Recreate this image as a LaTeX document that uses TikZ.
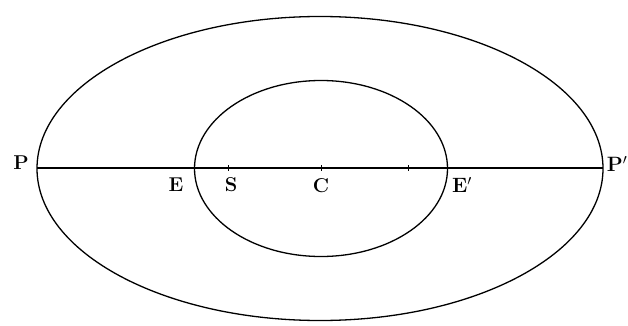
\documentclass[tikz,border=0pt]{standalone}
\usepackage{amsmath}
\usepackage{amssymb}
\usepackage{tikz}

\begin{document}
\begin{tikzpicture}[x=1pt, y=-1pt, line width=1.3pt,
    lbl/.style={font=\fontsize{20}{24}\selectfont\bfseries, inner sep=0pt}]
  \useasboundingbox (0,0) rectangle (628,326);

  % Orbits
  \draw (320,168.5) ellipse [x radius=283, y radius=152];
  \draw (321,168.5) ellipse [x radius=126.5, y radius=88];

  % Major axis
  \coordinate (P) at (37,168);
  \coordinate (Pp) at (603,168);
  \draw (P) -- (Pp);

  % Ticks
  \foreach \x in {228,321,408}
    \draw[line width=0.7pt] (\x,165) -- (\x,171);

  % Labels
  \node[lbl] (lP) at (21,163) {P};
  \node[lbl] (lPp) at (617,164) {$\mathbf{P'}$};
  \node[lbl] (lE) at (176,185) {E};
  \node[lbl] (lS) at (231,185) {S};
  \node[lbl] (lC) at (321,186) {C};
  \node[lbl] (lEp) at (462,185) {$\mathbf{E'}$};
\end{tikzpicture}
\end{document}
